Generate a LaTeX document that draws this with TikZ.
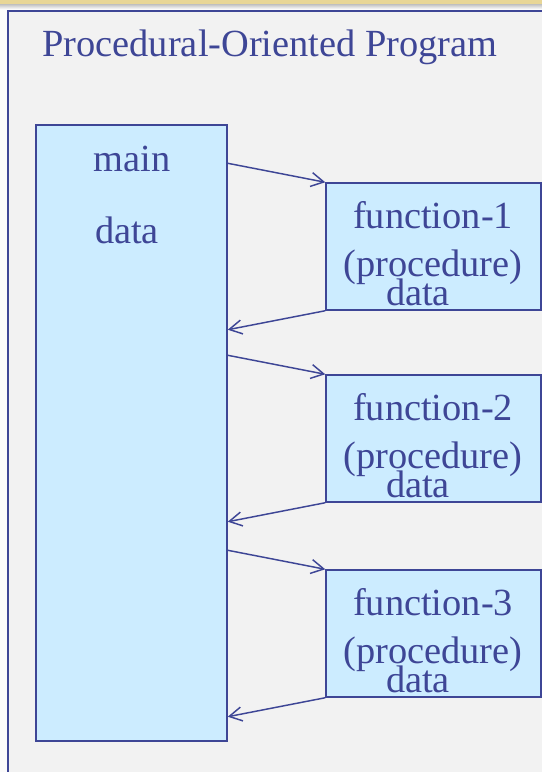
\documentclass[tikz,border=0pt]{standalone}
\usepackage{fontspec}
\setmainfont{Liberation Serif}
\usetikzlibrary{arrows.meta}
\definecolor{ink}{RGB}{62,70,150}
\definecolor{boxblue}{RGB}{204,236,255}
\definecolor{panel}{RGB}{242,242,242}
\definecolor{band}{RGB}{232,214,150}
\begin{document}
\begin{tikzpicture}[x=0.75pt,y=-0.75pt,
    txt/.style={text=ink,inner sep=0pt,anchor=base,font=\fontsize{28.8}{34}\selectfont},
    fbox/.style={draw=ink,fill=boxblue,line width=1.1pt,inner sep=0pt,minimum width=161.25pt,minimum height=95.25pt},
    arr/.style={draw=ink,line width=1.1pt,-{Straight Barb[length=9.5pt,width=10.5pt]}}]
    \useasboundingbox (0,0) rectangle (542,772);
    \fill[white!97!gray] (0,0) rectangle (542,772);
    \fill[band] (0,0) rectangle (542,4);
    \shade[top color=gray!50,bottom color=white!97!gray] (0,4) rectangle (542,9);
    \begin{scope}
        \clip (0,0) rectangle (542,772);
        \draw[ink,line width=1.1pt,fill=panel] (8,11) rectangle (570,800);
    \end{scope}
    \node[txt] (title) at (270,56) {Procedural-Oriented Program};
    \node[draw=ink,fill=boxblue,line width=1.1pt,inner sep=0pt,minimum width=143.25pt,minimum height=462pt] (main) at (131.5,433) {};
    \node[txt] (mainlbl) at (132,171.7) {main};
    \node[txt] (maindata) at (127,243) {data};
    \foreach \i/\t in {1/183,2/375,3/570} {
        \node[fbox] (f\i) at (433.5,\t+63.5) {};
        \node[txt] (fn\i) at (433,\t+45) {function-\i};
        \node[txt] (pr\i) at (433,\t+93) {(procedure)};
        \node[txt] (fd\i) at (418,\t+122) {data};
        \draw[arr] ([yshift=14.25pt]main.east |- f\i.north west) -- (f\i.north west);
        \draw[arr] (f\i.south west) -- ([yshift=-14.25pt]main.east |- f\i.south west);
    }
\end{tikzpicture}
\end{document}
